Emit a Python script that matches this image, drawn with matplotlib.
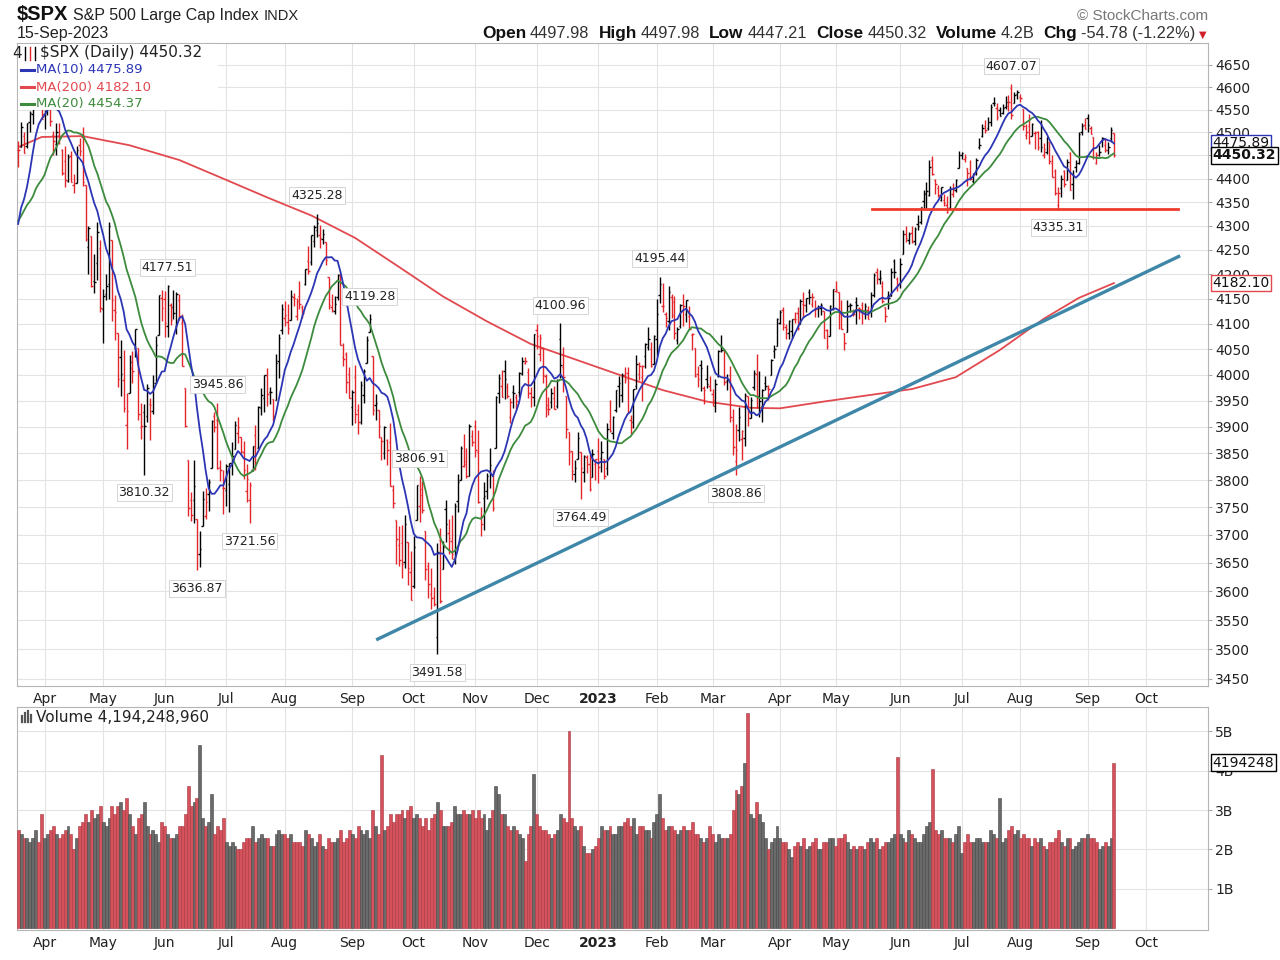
"""
$SPX daily chart in StockCharts style, 21-Mar-2022 .. 15-Sep-2023
"""
import numpy as np
import pandas as pd
import matplotlib
matplotlib.use('Agg')
from matplotlib import pyplot as plt
from matplotlib import transforms
from matplotlib.lines import Line2D
from matplotlib.patches import Rectangle

W, H = 1280, 960

# closes before the visible window, only used to start MA(10) / MA(20)
closes_before = [4304.76, 4225.50, 4288.70, 4384.65, 4373.94, 4306.26, 4386.54, 4363.49, 4328.87, 4201.09,
                 4170.70, 4277.88, 4259.52, 4204.31, 4173.11, 4262.45, 4357.86, 4411.67, 4463.12]

opens = [
    4462.40, 4469.10, 4493.10, 4469.98, 4522.66, 4541.09, 4602.86, 4624.20, 4599.02,  # Mar 22
    4540.32, 4547.97, 4572.45, 4494.17, 4474.65, 4494.15, 4462.64, 4437.59, 4394.30, 4449.12, 4385.63, 4390.63, 4472.26, 4489.17, 4385.83, 4255.34, 4278.14, 4186.52, 4222.58, 4253.75,
    4130.61, 4159.78, 4181.18, 4270.43, 4128.17, 4081.27, 4035.18, 3990.08, 3903.95, 3963.90, 4013.02, 4052.00, 4051.98, 3899.00, 3927.76, 3919.42, 3942.94, 3929.59, 3984.60, 4077.43, 4151.09,
    4149.78, 4095.41, 4137.57, 4134.72, 4096.47, 4147.12, 4101.65, 3974.39, 3838.15, 3763.52, 3764.05, 3728.18, 3665.90, 3715.31, 3733.89, 3774.71, 3821.75, 3920.76, 3913.00, 3825.09, 3785.99,
    3781.00, 3792.61, 3831.98, 3858.85, 3888.26, 3880.94, 3851.95, 3779.67, 3763.99, 3818.00, 3883.79, 3860.73, 3935.32, 3955.47, 3998.43, 3965.72, 3953.22, 3951.43, 4026.13, 4087.33,
    4112.38, 4104.21, 4107.96, 4154.85, 4115.87, 4155.93, 4133.11, 4181.02, 4227.40, 4225.02, 4269.37, 4290.46, 4280.40, 4273.13, 4266.31, 4195.08, 4133.09, 4126.55, 4153.26, 4198.74, 4034.58, 4041.25, 4000.67,
    3936.73, 3994.66, 3930.89, 3909.43, 3959.94, 4022.94, 4083.67, 4037.12, 3940.73, 3932.41, 3880.95, 3849.91, 3875.23, 3871.40, 3782.36, 3727.14, 3682.72, 3686.44, 3651.94, 3687.01, 3633.48,
    3609.78, 3726.46, 3753.25, 3771.97, 3706.74, 3644.79, 3595.86, 3590.83, 3520.37, 3690.41, 3638.65, 3746.26, 3703.11, 3689.05, 3657.10, 3762.01, 3799.44, 3825.97, 3834.69, 3808.26, 3881.85,
    3901.79, 3852.90, 3733.25, 3766.98, 3780.71, 3817.02, 3810.94, 3859.89, 3963.72, 3977.97, 4006.41, 3976.82, 3919.26, 3966.39, 3956.23, 3965.51, 4000.30, 4023.34, 4005.36, 3964.19, 3957.18,
    4087.14, 4040.17, 4052.02, 3996.63, 3933.28, 3947.79, 3954.17, 3939.29, 4069.38, 4015.54, 3958.37, 3890.91, 3853.79, 3810.47, 3839.49, 3853.26, 3815.11, 3843.34, 3829.56, 3805.45, 3829.06,
    3853.29, 3840.36, 3839.74, 3823.37, 3910.82, 3888.57, 3932.35, 3977.57, 3960.60, 3999.28, 4002.25, 3911.84, 3909.04, 3978.14, 4001.74, 3996.34, 4036.08, 4053.72, 4049.27, 4020.85,  # Jan 23
    4070.07, 4158.68, 4136.69, 4119.57, 4105.35, 4153.47, 4144.25, 4068.92, 4096.62, 4126.70, 4119.50, 4114.75, 4077.39, 4052.35, 4001.83, 4018.60, 3973.24, 3992.36, 3977.19,
    3963.34, 3938.68, 3998.02, 4055.15, 4048.26, 3987.55, 3998.66, 3912.77, 3835.12, 3894.01, 3876.74, 3878.93, 3958.69, 3917.47, 3975.89, 4002.04, 3959.21, 3939.21, 3982.93, 3974.13, 3999.53, 4046.74, 4056.18,
    4102.20, 4128.03, 4094.50, 4081.15, 4085.20, 4110.29, 4121.72, 4100.04, 4140.11, 4137.17, 4164.26, 4139.33, 4130.48, 4132.14, 4132.07, 4126.43, 4087.78, 4075.29, 4129.63,
    4166.79, 4164.10, 4122.25, 4082.61, 4084.73, 4136.98, 4124.25, 4143.74, 4132.24, 4138.54, 4126.65, 4127.95, 4122.85, 4157.68, 4204.15, 4190.78, 4176.80, 4132.96, 4155.71, 4156.16, 4226.71, 4190.74,
    4183.03, 4241.01, 4282.99, 4271.34, 4285.47, 4268.69, 4304.88, 4308.32, 4352.61, 4366.29, 4365.33, 4440.95, 4396.11, 4380.01, 4355.40, 4354.17, 4344.84, 4337.36, 4367.48, 4374.94, 4422.44,
    4450.48, 4442.04, 4422.62, 4404.54, 4394.23, 4415.55, 4467.69, 4491.50, 4514.61, 4508.86, 4521.78, 4563.87, 4554.38, 4550.16, 4543.39, 4555.19, 4558.96, 4598.26, 4565.75, 4584.82,
    4578.83, 4550.93, 4494.27, 4513.96, 4491.58, 4498.03, 4501.57, 4487.16, 4450.69, 4458.13, 4478.87, 4433.79, 4416.32, 4344.88, 4380.28, 4415.33, 4396.44, 4455.16, 4389.38, 4426.03, 4432.75, 4500.34, 4517.01,
    4530.60, 4510.06, 4490.35, 4434.55, 4451.30, 4480.98, 4473.27, 4462.65, 4487.78, 4497.98,
]
highs = [
    4481.75, 4522.00, 4501.07, 4520.58, 4546.03, 4575.65, 4637.30, 4627.77, 4603.07,
    4548.70, 4583.50, 4593.45, 4503.94, 4521.16, 4520.41, 4464.35, 4471.00, 4453.92, 4460.46, 4410.31, 4471.03, 4488.29, 4512.94, 4385.83, 4299.02, 4278.14, 4240.71, 4308.45, 4269.68,
    4169.81, 4200.10, 4307.66, 4270.43, 4157.69, 4081.27, 4068.82, 4049.09, 3964.80, 4038.88, 4046.46, 4090.72, 4051.98, 3945.96, 3943.42, 3981.88, 3955.68, 3999.33, 4075.14, 4158.49, 4168.34,
    4166.54, 4177.51, 4142.67, 4168.78, 4164.86, 4160.14, 4119.10, 3974.39, 3838.15, 3778.18, 3837.56, 3728.18, 3707.71, 3779.65, 3785.99, 3802.58, 3913.65, 3927.72, 3945.86, 3836.50, 3818.99,
    3829.82, 3832.19, 3870.91, 3910.63, 3918.50, 3880.94, 3873.41, 3829.44, 3796.41, 3863.62, 3902.44, 3939.81, 3974.13, 3999.29, 4012.44, 3975.30, 3953.22, 4039.56, 4078.95, 4140.15,
    4144.95, 4140.47, 4167.66, 4161.29, 4151.58, 4186.62, 4137.30, 4211.03, 4257.91, 4280.47, 4301.79, 4325.28, 4302.18, 4292.53, 4266.31, 4195.08, 4159.77, 4156.56, 4200.54, 4203.04, 4062.99, 4044.98, 4015.37,
    3970.23, 4018.43, 3942.55, 3987.89, 4010.50, 4076.81, 4119.28, 4037.12, 3961.94, 3932.41, 3880.95, 3900.45, 3876.01, 3907.07, 3790.51, 3727.14, 3715.67, 3717.53, 3736.74, 3687.01, 3671.44,
    3698.35, 3791.92, 3806.91, 3797.93, 3706.74, 3652.17, 3640.66, 3608.34, 3685.41, 3712.00, 3689.73, 3762.79, 3728.58, 3736.00, 3757.89, 3810.74, 3862.85, 3886.15, 3859.95, 3905.42, 3893.73,
    3911.79, 3894.44, 3750.59, 3796.34, 3813.95, 3859.40, 3818.20, 3958.33, 4001.48, 4008.97, 4028.84, 3983.09, 3954.33, 3979.89, 3962.00, 4005.88, 4033.78, 4034.02, 4012.27, 3976.77, 4080.11,
    4100.51, 4080.48, 4052.45, 4001.51, 3957.57, 3974.19, 3977.02, 3990.71, 4100.96, 4053.76, 3958.37, 3890.91, 3854.86, 3838.24, 3889.82, 3853.26, 3845.80, 3846.65, 3848.32, 3858.19, 3839.85,
    3878.46, 3873.16, 3839.74, 3906.19, 3950.57, 3919.83, 3970.07, 3997.76, 4003.95, 4015.39, 4014.16, 3922.94, 3972.96, 4039.31, 4023.92, 4019.55, 4061.57, 4094.21, 4063.85, 4077.16,
    4148.95, 4195.44, 4182.36, 4124.63, 4176.54, 4160.77, 4156.23, 4094.36, 4138.90, 4159.77, 4148.11, 4136.54, 4081.51, 4052.35, 4017.37, 4028.30, 3978.25, 4018.05, 3997.50,
    3971.73, 3990.84, 4048.29, 4078.49, 4050.00, 4000.41, 4017.81, 3934.05, 3905.05, 3937.29, 3894.26, 3964.46, 3958.91, 3956.62, 4009.08, 4039.49, 4007.66, 3972.74, 3996.57, 3979.20, 4030.59, 4057.85, 4110.75,
    4127.66, 4133.13, 4099.69, 4107.32, 4109.50, 4124.26, 4134.37, 4150.26, 4163.19, 4151.72, 4169.48, 4162.57, 4148.57, 4138.02, 4142.41, 4126.43, 4089.67, 4138.24, 4170.06,
    4186.92, 4164.10, 4148.30, 4082.61, 4147.02, 4142.30, 4130.35, 4154.28, 4132.80, 4143.74, 4141.25, 4135.54, 4164.67, 4202.20, 4212.91, 4209.22, 4185.68, 4132.96, 4165.74, 4212.87, 4231.10, 4195.44,
    4232.43, 4290.67, 4299.28, 4288.33, 4299.19, 4298.01, 4322.62, 4340.13, 4375.37, 4391.82, 4439.20, 4448.47, 4400.15, 4386.22, 4382.25, 4366.55, 4362.06, 4384.42, 4390.35, 4398.39, 4458.48,
    4456.46, 4454.06, 4422.62, 4440.39, 4412.60, 4443.64, 4488.34, 4517.38, 4527.76, 4532.85, 4562.30, 4578.43, 4564.74, 4555.00, 4563.41, 4580.62, 4582.47, 4607.07, 4590.16, 4594.22,
    4584.62, 4550.93, 4519.49, 4540.34, 4519.84, 4503.31, 4502.44, 4527.37, 4476.23, 4490.33, 4478.87, 4449.95, 4421.17, 4381.82, 4407.55, 4418.59, 4443.18, 4458.30, 4418.46, 4439.56, 4500.14, 4521.65, 4532.26,
    4541.25, 4514.29, 4490.35, 4457.81, 4473.53, 4490.77, 4487.11, 4479.39, 4511.99, 4497.98,
]
lows = [
    4424.30, 4469.10, 4455.81, 4465.17, 4501.07, 4517.69, 4581.32, 4581.32, 4530.41,
    4507.57, 4539.21, 4514.17, 4450.04, 4450.30, 4474.60, 4408.38, 4381.34, 4392.70, 4392.00, 4370.30, 4390.63, 4448.76, 4384.47, 4267.62, 4200.82, 4175.04, 4162.90, 4188.63, 4124.28,
    4062.51, 4147.08, 4148.91, 4106.01, 4067.91, 3975.48, 3958.17, 3928.82, 3858.87, 3963.90, 3983.99, 4033.93, 3911.91, 3876.58, 3810.32, 3909.04, 3875.13, 3925.03, 3984.60, 4077.43, 4104.88,
    4073.85, 4074.37, 4098.67, 4109.18, 4080.19, 4107.20, 4017.17, 3900.16, 3734.30, 3724.63, 3722.30, 3636.87, 3643.27, 3715.31, 3729.69, 3743.52, 3821.75, 3889.66, 3820.14, 3799.02, 3738.67,
    3752.10, 3742.06, 3809.37, 3858.85, 3869.34, 3847.22, 3802.36, 3759.07, 3721.56, 3817.18, 3818.63, 3860.73, 3922.03, 3927.64, 3938.85, 3943.46, 3910.74, 3951.43, 3992.97, 4079.22,
    4096.02, 4079.81, 4107.96, 4135.42, 4107.31, 4128.97, 4112.09, 4177.26, 4201.41, 4219.78, 4256.90, 4277.77, 4253.08, 4261.98, 4218.70, 4129.86, 4124.03, 4119.97, 4147.59, 4057.66, 4017.42, 3965.21, 3954.53,
    3903.65, 3906.21, 3886.75, 3906.03, 3944.81, 4022.94, 4083.67, 3921.35, 3912.43, 3878.33, 3837.08, 3838.50, 3827.54, 3789.49, 3749.45, 3647.47, 3644.76, 3623.29, 3640.61, 3610.40, 3584.13,
    3604.93, 3726.46, 3722.66, 3739.22, 3620.73, 3588.10, 3568.45, 3573.86, 3491.58, 3579.68, 3638.65, 3686.53, 3666.51, 3656.44, 3647.42, 3741.65, 3799.44, 3824.07, 3803.79, 3808.26, 3863.18,
    3843.80, 3758.68, 3698.15, 3708.84, 3764.70, 3786.28, 3744.22, 3859.89, 3944.82, 3956.40, 3953.17, 3954.34, 3906.54, 3935.98, 3933.34, 3956.88, 3998.66, 4020.76, 3955.77, 3937.65, 3938.58,
    4050.87, 4026.63, 3984.49, 3918.39, 3922.68, 3935.83, 3933.04, 3935.30, 3993.03, 3965.65, 3879.45, 3827.91, 3800.04, 3795.62, 3839.49, 3764.49, 3797.01, 3813.22, 3780.78, 3805.45, 3800.34,
    3794.33, 3815.77, 3802.42, 3809.56, 3890.42, 3877.29, 3928.54, 3937.56, 3947.67, 3984.57, 3926.59, 3885.54, 3897.86, 3971.64, 3989.79, 3949.06, 4013.29, 4048.70, 4015.55, 4020.44,
    4037.20, 4141.88, 4123.36, 4093.38, 4088.39, 4111.35, 4069.67, 4060.79, 4092.67, 4095.01, 4103.98, 4089.49, 4047.95, 3995.19, 3976.90, 3969.19, 3943.08, 3973.55, 3968.98,
    3939.05, 3928.16, 3995.17, 4044.61, 3980.31, 3969.76, 3908.70, 3846.32, 3808.86, 3873.63, 3838.24, 3864.11, 3901.27, 3916.89, 3971.19, 3936.17, 3919.05, 3909.16, 3969.66, 3951.53, 3999.53, 4032.10, 4056.18,
    4098.79, 4086.87, 4069.84, 4069.84, 4072.55, 4102.61, 4086.94, 4099.40, 4113.20, 4123.18, 4140.36, 4134.49, 4114.57, 4113.86, 4117.77, 4071.38, 4049.35, 4075.29, 4127.18,
    4164.12, 4089.72, 4088.86, 4048.28, 4084.73, 4123.81, 4116.65, 4098.92, 4109.29, 4099.12, 4110.27, 4109.86, 4113.62, 4153.50, 4180.20, 4179.68, 4142.54, 4103.98, 4129.73, 4156.16, 4192.18, 4166.15,
    4171.64, 4241.01, 4266.82, 4263.09, 4263.96, 4261.07, 4291.70, 4304.37, 4337.66, 4337.85, 4362.60, 4407.44, 4367.19, 4360.14, 4351.82, 4341.34, 4328.08, 4335.00, 4360.22, 4371.97, 4422.44,
    4442.29, 4436.61, 4385.05, 4397.40, 4389.92, 4408.46, 4463.23, 4489.36, 4499.56, 4504.90, 4514.59, 4557.48, 4527.56, 4535.79, 4541.29, 4552.42, 4547.58, 4528.56, 4564.01, 4573.14,
    4567.53, 4505.75, 4485.54, 4474.55, 4491.15, 4464.39, 4461.33, 4457.92, 4443.98, 4453.44, 4432.19, 4403.55, 4364.83, 4335.31, 4360.30, 4382.77, 4396.44, 4375.55, 4356.29, 4414.98, 4431.68, 4493.59, 4507.39,
    4501.35, 4496.01, 4442.38, 4430.46, 4448.38, 4467.89, 4456.83, 4453.52, 4478.69, 4447.21,
]
closes = [
    4461.18, 4511.61, 4456.24, 4520.16, 4543.06, 4575.52, 4631.60, 4602.45, 4530.41,
    4545.86, 4582.64, 4525.12, 4481.15, 4500.21, 4488.28, 4412.53, 4397.45, 4446.59, 4392.59, 4391.69, 4462.21, 4459.45, 4393.66, 4271.78, 4296.12, 4175.20, 4183.96, 4287.50, 4131.93,
    4155.38, 4175.48, 4300.17, 4146.87, 4123.34, 3991.24, 4001.05, 3935.18, 3930.08, 4023.89, 4008.01, 4088.85, 3923.68, 3900.79, 3901.36, 3973.75, 3941.48, 3978.73, 4057.84, 4158.24, 4132.15,
    4101.23, 4176.82, 4108.54, 4121.43, 4160.68, 4115.77, 4017.82, 3900.86, 3749.63, 3735.48, 3789.99, 3666.77, 3674.84, 3764.79, 3759.89, 3795.73, 3911.74, 3900.11, 3821.55, 3818.83, 3785.38,
    3825.33, 3831.39, 3845.08, 3902.62, 3899.38, 3854.43, 3818.80, 3801.78, 3790.38, 3863.16, 3830.85, 3936.69, 3959.90, 3998.95, 3961.63, 3966.84, 3921.05, 4023.61, 4072.43, 4130.29,
    4118.63, 4091.19, 4155.17, 4151.94, 4145.19, 4140.06, 4122.47, 4210.24, 4207.27, 4280.15, 4297.14, 4305.20, 4274.04, 4283.74, 4228.48, 4137.99, 4128.73, 4140.77, 4199.12, 4057.66, 4030.61, 3986.16, 3955.00,
    3966.85, 3924.26, 3908.19, 3979.87, 4006.18, 4067.36, 4110.41, 3932.69, 3946.01, 3901.35, 3873.33, 3899.89, 3855.93, 3789.93, 3757.99, 3693.23, 3655.04, 3647.29, 3719.04, 3640.47, 3585.62,
    3678.43, 3790.93, 3783.28, 3744.52, 3639.66, 3612.39, 3588.84, 3577.03, 3669.91, 3583.07, 3677.95, 3719.98, 3695.16, 3665.78, 3752.75, 3797.34, 3859.11, 3830.60, 3807.30, 3901.06, 3871.98,
    3856.10, 3759.69, 3719.89, 3770.55, 3806.80, 3828.11, 3748.57, 3956.37, 3992.93, 3957.25, 3991.73, 3958.79, 3946.56, 3965.34, 3949.94, 4003.58, 4027.26, 4026.12, 3963.94, 3957.63, 4080.11,
    4076.57, 4071.70, 3998.84, 3941.26, 3933.92, 3963.51, 3934.38, 3990.56, 4019.65, 3995.32, 3895.75, 3852.36, 3817.66, 3821.62, 3878.44, 3822.39, 3844.82, 3829.25, 3783.22, 3849.28, 3839.50,
    3824.14, 3852.97, 3808.10, 3895.08, 3892.09, 3919.25, 3969.61, 3983.17, 3999.09, 3990.97, 3928.86, 3898.85, 3972.61, 4019.81, 4016.95, 4016.22, 4060.43, 4070.56, 4017.77, 4076.60,
    4119.21, 4179.76, 4136.48, 4111.08, 4164.00, 4117.86, 4081.50, 4090.46, 4137.29, 4136.13, 4147.60, 4090.41, 4079.09, 3997.34, 3991.05, 4012.32, 3970.04, 3982.24, 3970.15,
    3951.39, 3981.35, 4045.64, 4048.42, 3986.37, 3992.01, 3918.32, 3861.59, 3855.76, 3919.29, 3891.93, 3960.28, 3916.64, 3951.57, 4002.87, 3936.97, 3948.72, 3970.99, 3977.53, 3971.27, 4027.81, 4050.83, 4109.31,
    4124.51, 4100.60, 4090.38, 4105.02, 4109.11, 4108.94, 4091.95, 4146.22, 4137.64, 4151.32, 4154.87, 4154.52, 4129.79, 4133.52, 4137.04, 4071.63, 4055.99, 4135.35, 4169.48,
    4167.87, 4119.58, 4090.75, 4061.22, 4136.25, 4138.12, 4119.17, 4137.64, 4130.62, 4124.08, 4136.28, 4109.90, 4158.77, 4198.05, 4191.98, 4192.63, 4145.58, 4115.24, 4151.28, 4205.45, 4205.52, 4179.83,
    4221.02, 4282.37, 4273.79, 4283.85, 4267.52, 4293.93, 4298.86, 4338.93, 4369.01, 4372.59, 4425.84, 4409.59, 4388.71, 4365.69, 4381.89, 4348.33, 4328.82, 4378.41, 4376.86, 4396.44, 4450.38,
    4455.59, 4446.82, 4411.59, 4398.95, 4409.53, 4439.26, 4472.16, 4510.04, 4505.42, 4522.79, 4554.98, 4565.72, 4534.87, 4536.34, 4554.64, 4567.46, 4566.75, 4537.41, 4582.23, 4588.96,
    4576.73, 4513.39, 4501.89, 4478.03, 4518.44, 4499.38, 4467.71, 4468.83, 4464.05, 4489.72, 4437.86, 4404.33, 4370.36, 4369.71, 4399.77, 4387.55, 4436.01, 4376.31, 4405.71, 4433.31, 4497.63, 4514.87, 4507.66,
    4515.77, 4496.83, 4465.48, 4451.14, 4457.49, 4487.46, 4461.90, 4467.44, 4505.10, 4450.32,
]
# volume in billions of shares
volumes = [
    2.5, 2.4, 2.3, 2.3, 2.2, 2.3, 2.5, 2.2, 2.9,
    2.3, 2.4, 2.5, 2.6, 2.4, 2.3, 2.4, 2.5, 2.6, 2.4, 2.0, 2.3, 2.6, 2.7, 2.9, 2.7, 3.0, 2.8, 2.9, 3.1,
    2.7, 2.6, 2.8, 3.1, 2.9, 3.1, 3.2, 3.0, 3.3, 2.9, 2.6, 2.4, 2.8, 2.9, 3.2, 2.6, 2.4, 2.5, 2.4, 2.2, 2.7,
    2.6, 2.4, 2.3, 2.3, 2.4, 2.6, 2.6, 2.9, 3.6, 3.1, 3.2, 3.3, 4.65, 2.8, 2.6, 2.7, 3.4, 2.4, 2.6, 2.5, 2.8,
    2.2, 2.1, 2.2, 2.1, 2.0, 2.0, 2.2, 2.3, 2.3, 2.6, 2.2, 2.3, 2.4, 2.3, 2.3, 2.1, 2.1, 2.4, 2.5, 2.4,
    2.4, 2.3, 2.4, 2.2, 2.2, 2.2, 2.1, 2.5, 2.4, 2.3, 2.1, 2.2, 2.4, 2.1, 2.0, 2.3, 2.2, 2.2, 2.3, 2.5, 2.2, 2.3, 2.5,
    2.4, 2.3, 2.6, 2.5, 2.4, 2.5, 2.3, 3.0, 2.6, 2.4, 4.4, 2.5, 2.6, 2.9, 2.7, 2.9, 2.9, 3.0, 2.8, 3.0, 3.1,
    2.8, 2.9, 2.8, 2.6, 2.8, 2.5, 2.8, 2.9, 3.2, 3.0, 2.6, 2.6, 2.6, 2.7, 3.1, 2.9, 2.9, 3.0, 2.9, 2.9, 3.0,
    2.8, 3.0, 2.8, 2.9, 2.5, 2.8, 3.0, 3.6, 3.4, 2.9, 2.9, 2.6, 2.5, 2.6, 2.5, 2.4, 2.3, 1.7, 2.4, 2.6, 3.9,
    2.9, 2.6, 2.5, 2.5, 2.4, 2.3, 2.4, 2.5, 2.9, 2.8, 2.7, 5.0, 2.8, 2.6, 2.5, 2.6, 2.1, 1.9, 1.9, 2.0, 2.1,
    2.3, 2.6, 2.5, 2.5, 2.6, 2.4, 2.4, 2.6, 2.6, 2.7, 2.8, 2.6, 2.8, 2.4, 2.6, 2.6, 2.5, 2.5, 2.3, 2.7,
    2.9, 3.4, 2.8, 2.5, 2.6, 2.6, 2.5, 2.4, 2.5, 2.6, 2.5, 2.5, 2.7, 2.4, 2.4, 2.3, 2.2, 2.3, 2.6,
    2.4, 2.2, 2.4, 2.3, 2.3, 2.3, 2.4, 3.0, 3.5, 3.4, 3.6, 4.2, 5.45, 2.9, 2.8, 3.2, 2.9, 2.7, 2.3, 2.0, 2.2, 2.3, 2.6,
    2.3, 2.2, 2.2, 2.0, 1.8, 2.1, 2.2, 2.1, 2.3, 2.0, 2.1, 2.2, 2.3, 2.0, 2.0, 2.2, 2.2, 2.3, 2.3,
    2.1, 2.3, 2.3, 2.4, 2.2, 2.0, 2.1, 2.0, 2.1, 2.1, 2.0, 2.2, 2.3, 2.2, 2.3, 2.0, 2.1, 2.2, 2.2, 2.3, 2.4, 4.35,
    2.4, 2.3, 2.2, 2.5, 2.4, 2.3, 2.2, 2.2, 2.4, 2.6, 2.7, 4.05, 2.5, 2.4, 2.5, 2.3, 2.3, 2.3, 2.2, 2.4, 2.6,
    1.9, 2.2, 2.4, 2.2, 2.2, 2.3, 2.3, 2.2, 2.2, 2.2, 2.5, 2.4, 2.3, 3.3, 2.2, 2.3, 2.5, 2.6, 2.4, 2.5,
    2.3, 2.4, 2.3, 2.3, 2.1, 2.3, 2.2, 2.3, 2.1, 2.0, 2.2, 2.2, 2.3, 2.5, 2.2, 2.1, 2.3, 2.3, 2.0, 2.1, 2.2, 2.3, 2.3,
    2.4, 2.3, 2.3, 2.2, 2.0, 2.1, 2.2, 2.1, 2.3, 4.19424896,
]

# MA(200): bar number -> value
ma200_bars = [0, 8, 22, 38, 55, 70, 85, 100, 115, 130, 145, 160, 175, 190, 205, 220, 235, 250, 260,
              275, 290, 305, 320, 335, 350, 362, 374]
ma200_vals = [4468, 4490, 4492, 4472, 4440, 4400, 4360, 4322, 4275, 4215, 4155, 4105, 4060, 4030, 4000,
              3970, 3948, 3936, 3935, 3948, 3960, 3972, 3995, 4048, 4110, 4152, 4182.10]

# first trading day of each month (bar number) and its label
month_bars = [9, 29, 50, 71, 91, 114, 135, 156, 177, 198, 218, 237, 260, 279, 301, 322, 342, 365, 385]
month_labels = ['Apr', 'May', 'Jun', 'Jul', 'Aug', 'Sep', 'Oct', 'Nov', 'Dec', '2023',
                'Feb', 'Mar', 'Apr', 'May', 'Jun', 'Jul', 'Aug', 'Sep', 'Oct']

# swing points that carry a price label
note_bars = [43, 51, 61, 68, 79, 102, 120, 137, 143, 185, 192, 219, 245, 339, 355]
note_kind = ['low', 'high', 'low', 'high', 'low', 'high', 'high', 'high', 'low', 'high', 'low', 'high',
             'low', 'high', 'low']

# hand drawn lines: rising trend line and the August support
trend_bars = [122.2, 396.6]
trend_vals = [3516, 4238]
support_bars = [291.5, 395.9]
support_val = 4335.31

price_ticks = list(range(3450, 4651, 50))
vol_ticks = [1, 2, 3, 4, 5]

RED = '#e4262c'
BLUE = '#2c36b4'
GREEN = '#3d8b3d'
MA200_RED = '#e2494f'
GRID = '#e3e3e3'


def text_run(fig, x_px, y_px, pieces, align='left'):
    """place text pieces one after another on a line (pixel coords from top-left)"""
    r = fig.canvas.get_renderer()
    items = []
    for s, kw, gap in pieces:
        t = fig.text(0, 1 - y_px / H, s, va='baseline', **kw)
        items.append((t, t.get_window_extent(r).width, gap))
    total = sum(w + g for _, w, g in items) - items[-1][2]
    x = x_px - total if align == 'right' else x_px
    for t, w, g in items:
        t.set_x(x / W)
        x += w + g


def main():
    plt.rcParams['font.family'] = 'DejaVu Sans'
    n = len(closes)
    x = np.arange(n)
    c = np.array(closes)
    prev = np.concatenate([[closes_before[-1]], c[:-1]])
    up = c >= prev
    bar_col = np.where(up, 'black', RED)

    s = pd.Series(closes_before + closes)
    ma10 = s.rolling(10).mean().iloc[len(closes_before):].to_numpy()
    ma20 = s.rolling(20).mean().iloc[len(closes_before):].to_numpy()

    fig = plt.figure(figsize=(W / 100, H / 100), dpi=100)
    fig.patch.set_facecolor('white')
    left, right = 17 / W, 1208 / W
    ax = fig.add_axes([left, 274 / H, right - left, 643 / H])
    axv = fig.add_axes([left, 30 / H, right - left, 223 / H])
    xlim = (-0.4, 406.1)

    # ---- price panel ----
    ax.set_yscale('log')
    ax.set_ylim(3438, 4700)
    ax.set_xlim(*xlim)
    ax.set_yticks(price_ticks, labels=[str(t) for t in price_ticks])
    ax.minorticks_off()
    ax.yaxis.tick_right()
    ax.tick_params(axis='y', length=3, color='#aaaaaa', labelsize=10, labelcolor='#222222', pad=2)
    ax.set_xticks(month_bars, labels=month_labels)
    ax.tick_params(axis='x', length=0, labelsize=10, labelcolor='#222222', pad=4)
    ax.grid(True, color=GRID, lw=0.8)
    ax.set_axisbelow(True)
    for sp in ax.spines.values():
        sp.set_color('#b5b5b5')

    ax.plot(ma200_bars, ma200_vals, color=MA200_RED, lw=1.3, zorder=2)
    ax.vlines(x, lows, highs, colors=bar_col, lw=1.0, zorder=3)
    ax.hlines(opens, x - 0.5, x, colors=bar_col, lw=1.0, zorder=3)
    ax.hlines(closes, x, x + 0.5, colors=bar_col, lw=1.0, zorder=3)
    ax.plot(x, ma20, color=GREEN, lw=1.3, zorder=4)
    ax.plot(x, ma10, color=BLUE, lw=1.3, zorder=4)

    ax.plot(trend_bars, trend_vals, color='#3f87a9', lw=2.4, solid_capstyle='butt', zorder=5)
    ax.plot(support_bars, [support_val, support_val], color='#ee3b2b', lw=2.0, zorder=5)

    for b, kind in zip(note_bars, note_kind):
        v = highs[b] if kind == 'high' else lows[b]
        dy = 13 if kind == 'high' else -13
        ax.annotate(f'{v:.2f}', xy=(b, v), xytext=(0, dy), textcoords='offset points',
                    ha='center', va='center', fontsize=9, color='#222222', zorder=6,
                    bbox=dict(boxstyle='square,pad=0.15', fc='white', ec='#cfcfcf', lw=0.6))

    # value tags on the right axis
    tr = transforms.blended_transform_factory(ax.transAxes, ax.transData)
    for val, ec, weight in [(ma200_vals[-1], MA200_RED, 'normal'), (ma10[-1], BLUE, 'normal'),
                            (closes[-1], 'black', 'bold')]:
        ax.text(1.004, val, f'{val:.2f}', transform=tr, ha='left', va='center', fontsize=10,
                fontweight=weight, color='#111111', clip_on=False, zorder=10,
                bbox=dict(boxstyle='square,pad=0.1', fc='white', ec=ec, lw=1.0))

    # legend block (white, sits over the bars like the original)
    fig.add_artist(Rectangle((18 / W, 1 - 110 / H), 200 / W, 66 / H, facecolor='white',
                             edgecolor='none', transform=fig.transFigure, zorder=1))
    fig.text(12 / W, 1 - 53 / H, '4', fontsize=11, va='center', color='#222222')
    # little OHLC glyph in front of the symbol
    for gx, gcol in [(25, 'black'), (30, RED), (35, 'black')]:
        fig.add_artist(Line2D([gx / W, gx / W], [1 - 60 / H, 1 - 47 / H], color=gcol, lw=1.0,
                              transform=fig.transFigure))
    fig.text(40 / W, 1 - 53 / H, '$SPX (Daily) 4450.32', fontsize=11, va='center', color='#222222')
    for i, (lab, col) in enumerate([(f'MA(10) {ma10[-1]:.2f}', BLUE),
                                    (f'MA(200) {ma200_vals[-1]:.2f}', MA200_RED),
                                    (f'MA(20) {ma20[-1]:.2f}', GREEN)]):
        yy = 1 - (70 + 17 * i) / H
        fig.add_artist(Line2D([21 / W, 34 / W], [yy, yy], color=col, lw=2.2, transform=fig.transFigure))
        fig.text(36 / W, yy, lab, fontsize=9.5, va='center', color=col)

    # ---- volume panel ----
    v = np.array(volumes)
    vol_col = np.where(up, '#6a6a6a', '#d3525c')
    vol_edge = np.where(up, '#444444', '#a93640')
    axv.bar(x, v, width=1.0, color=vol_col, edgecolor=vol_edge, linewidth=0.4, zorder=3)
    axv.set_xlim(*xlim)
    axv.set_ylim(-0.04, 5.61)
    axv.set_yticks(vol_ticks, labels=[f'{t}B' for t in vol_ticks])
    axv.yaxis.tick_right()
    axv.tick_params(axis='y', length=3, color='#aaaaaa', labelsize=10, labelcolor='#222222', pad=2)
    axv.set_xticks(month_bars, labels=month_labels)
    axv.tick_params(axis='x', length=0, labelsize=10, labelcolor='#222222', pad=4)
    axv.grid(True, color=GRID, lw=0.8)
    axv.set_axisbelow(True)
    for sp in axv.spines.values():
        sp.set_color('#b5b5b5')
    trv = transforms.blended_transform_factory(axv.transAxes, axv.transData)
    axv.text(1.004, v[-1], f'{round(volumes[-1] * 1e9):d}'[:7], transform=trv, ha='left', va='center',
             fontsize=10, color='#111111', clip_on=False, zorder=10,
             bbox=dict(boxstyle='square,pad=0.1', fc='white', ec='black', lw=1.0))
    for gx, gh in [(22, 6), (25, 9), (28, 11), (31, 7)]:
        fig.add_artist(Line2D([gx / W, gx / W], [1 - 722 / H, 1 - (722 - gh) / H], color='#555555',
                              lw=1.6, transform=fig.transFigure))
    fig.text(36 / W, 1 - 717 / H, 'Volume 4,194,248,960', fontsize=11, va='center', color='#222222')

    for a in (ax, axv):
        for lab in a.get_xticklabels():
            if lab.get_text() == '2023':
                lab.set_fontweight('bold')

    # ---- header ----
    bold = dict(family='Liberation Sans', fontweight='bold', fontsize=12.4, color='#111111')
    norm = dict(family='Liberation Sans', fontsize=11.8, color='#333333')
    text_run(fig, 17, 20, [('$SPX', dict(family='Liberation Sans', fontweight='bold', fontsize=14.5,
                                         color='#111111'), 5),
                           ('S&P 500 Large Cap Index', dict(family='Liberation Sans', fontsize=11.5,
                                                            color='#222222'), 5),
                           ('INDX', dict(family='Liberation Sans', fontsize=10.5, color='#222222'), 0)])
    fig.text(17 / W, 1 - 38 / H, '15-Sep-2023', family='Liberation Sans', fontsize=11.5,
             color='#222222', va='baseline')
    fig.text(1208 / W, 1 - 20 / H, '\u00a9 StockCharts.com', family='Liberation Sans', fontsize=11,
             color='#777777', ha='right', va='baseline')
    text_run(fig, 1206, 38, [('Open', bold, 4), ('4497.98', norm, 9), ('High', bold, 4), ('4497.98', norm, 9),
                             ('Low', bold, 4), ('4447.21', norm, 9), ('Close', bold, 4), ('4450.32', norm, 9),
                             ('Volume', bold, 4), ('4.2B', norm, 9), ('Chg', bold, 4),
                             ('-54.78 (-1.22%)', norm, 3),
                             ('\u25bc', dict(fontsize=7, color='#d0202a'), 0)], align='right')

    fig.savefig('out.png', dpi=100, facecolor='white')


if __name__ == '__main__':
    main()
